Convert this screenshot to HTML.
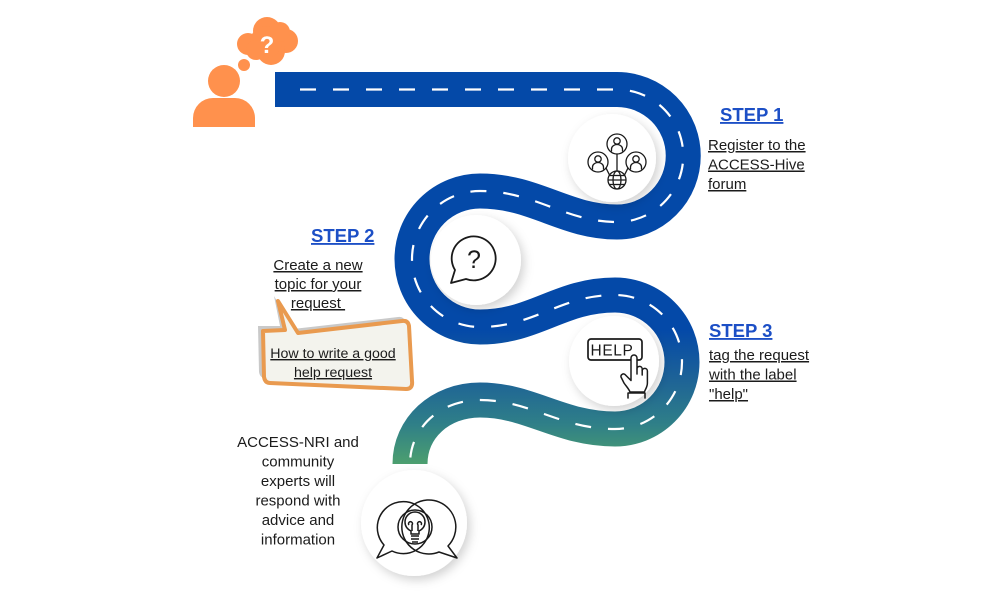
<!DOCTYPE html>
<html>
<head>
<meta charset="utf-8">
<style>
  html,body{margin:0;padding:0;background:#fff;}
  svg{display:block;}
  .t{font-family:"Liberation Sans",sans-serif;}
  .title{font-family:"Liberation Sans",sans-serif;font-weight:bold;font-size:18.5px;fill:#1c4fc6;text-decoration:underline;}
  .body{font-family:"Liberation Sans",sans-serif;font-size:15px;fill:#1b1b1b;text-decoration:underline;}
  .plain{font-family:"Liberation Sans",sans-serif;font-size:15px;fill:#1b1b1b;}
</style>
</head>
<body>
<svg width="1000" height="600" viewBox="0 0 1000 600" xmlns="http://www.w3.org/2000/svg">
  <defs>
    <linearGradient id="rg" gradientUnits="userSpaceOnUse" x1="0" y1="330" x2="0" y2="468">
      <stop offset="0" stop-color="#0449a8"/>
      <stop offset="0.35" stop-color="#1d6297"/>
      <stop offset="0.68" stop-color="#2f7f88"/>
      <stop offset="1" stop-color="#4fa26c"/>
    </linearGradient>
    <filter id="sh" x="-40%" y="-40%" width="180%" height="180%">
      <feDropShadow dx="3" dy="4" stdDeviation="5" flood-color="#000" flood-opacity="0.18"/>
    </filter>
  </defs>

  <!-- Road -->
  <path d="M275,89.5 L617,89.5 A66,66 0 0 1 617,222 C565,222 535,191 480,191 A68,68 0 0 0 480,327 C535,327 560,295 615,295 A67,67 0 0 1 615,429 C560,429 530,400 480,400 C440,400 410,428 410,464"
        stroke="url(#rg)" stroke-width="35" fill="none"/>
  <path d="M300,89.5 L617,89.5 A66,66 0 0 1 617,222 C565,222 535,191 480,191 A68,68 0 0 0 480,327 C535,327 560,295 615,295 A67,67 0 0 1 615,429 C560,429 530,400 480,400 C440,400 410,428 410,464"
        stroke="#fff" stroke-width="2.2" fill="none" stroke-dasharray="16 17"/>

  <!-- White circles -->
  <circle cx="612" cy="158" r="44" fill="#fff" filter="url(#sh)"/>
  <circle cx="476" cy="260" r="45" fill="#fff" filter="url(#sh)"/>
  <circle cx="614" cy="361" r="45" fill="#fff" filter="url(#sh)"/>
  <circle cx="414" cy="523" r="53" fill="#fff" filter="url(#sh)"/>

  <!-- Person with thought cloud -->
  <g fill="#ff914d">
    <circle cx="224" cy="81" r="16"/>
    <path d="M193,127 V118 a20,20 0 0 1 20,-20 h22 a20,20 0 0 1 20,20 V127 Z"/>
    <circle cx="244" cy="65" r="6"/>
    <circle cx="248" cy="44" r="11"/>
    <circle cx="267" cy="31" r="14"/>
    <circle cx="286" cy="41" r="12"/>
    <circle cx="271" cy="51" r="14"/>
    <circle cx="266" cy="42" r="16"/>
    <circle cx="256" cy="50" r="10"/>
    <circle cx="280" cy="32" r="10"/>
  </g>
  <text x="267" y="53" class="t" font-size="24" font-weight="bold" fill="#fff" text-anchor="middle">?</text>

  <!-- Network icon (step 1) -->
  <g fill="none" stroke="#1a1a1a" stroke-width="1.3">
    <circle cx="617" cy="144" r="10"/>
    <circle cx="598" cy="162" r="10"/>
    <circle cx="636" cy="162" r="10"/>
    <circle cx="617" cy="180" r="9"/>
    <line x1="617" y1="154" x2="617" y2="171"/>
    <line x1="606" y1="168" x2="609.5" y2="175"/>
    <line x1="628" y1="168" x2="624.5" y2="175"/>
    <circle cx="617" cy="141" r="3.2"/>
    <path d="M611.5,151.5 v-2.5 a5.5,4.5 0 0 1 11,0 v2.5"/>
    <circle cx="598" cy="159" r="3.2"/>
    <path d="M592.5,169.5 v-2.5 a5.5,4.5 0 0 1 11,0 v2.5"/>
    <circle cx="636" cy="159" r="3.2"/>
    <path d="M630.5,169.5 v-2.5 a5.5,4.5 0 0 1 11,0 v2.5"/>
    <ellipse cx="617" cy="180" rx="4" ry="9"/>
    <line x1="608" y1="180" x2="626" y2="180"/>
    <line x1="609.5" y1="175.5" x2="624.5" y2="175.5"/>
    <line x1="609.5" y1="184.5" x2="624.5" y2="184.5"/>
  </g>

  <!-- Question bubble (step 2) -->
  <path d="M455,270 A22,22 0 1 1 466,279 L451,283 Z" fill="none" stroke="#1a1a1a" stroke-width="1.8" stroke-linejoin="round"/>
  <text x="474" y="268" class="t" font-size="25" fill="#1a1a1a" text-anchor="middle">?</text>

  <!-- HELP icon (step 3) -->
  <rect x="588" y="339" width="54" height="21" rx="3" fill="#fff" stroke="#1a1a1a" stroke-width="1.7"/>
  <text x="612" y="355.5" class="t" font-size="15.5" fill="#1a1a1a" text-anchor="middle" letter-spacing="0.6">HELP</text>
  <g fill="#fff" stroke="#1a1a1a" stroke-width="1.5" stroke-linejoin="round" stroke-linecap="round">
    <path d="M631,374 V358 a3,3 0 0 1 6,0 V369 a2.6,2.6 0 0 1 5.2,0 V371 a2.6,2.6 0 0 1 5.2,0 V383 c0,4 -2,6 -3,9 H630 c-1,-3 -4,-6 -6,-9 l-3,-6 a2.5,2.5 0 0 1 4,-2.5 l6,6 Z"/>
    <path d="M642.2,370 v5 M637,369 v5" fill="none"/>
    <path d="M628,393 h17 M628,393 v5 M645,393 v5" fill="none"/>
  </g>

  <!-- Bulb with two bubbles -->
  <g fill="none" stroke="#1a1a1a" stroke-width="1.5" stroke-linejoin="round">
    <path d="M384,545 A26,26 0 1 1 392,551 L377,558 Z"/>
    <path d="M448,546 A27,27 0 1 0 439,552 L457,558 Z"/>
    <circle cx="415" cy="527" r="17"/>
    <path d="M411,534 v-3 c-4,-2 -6,-5 -6,-9 a10,10 0 0 1 20,0 c0,4 -2,7 -6,9 v3 Z"/>
    <path d="M411,536 h8 M411,539 h8 M412,542 h6"/>
    <path d="M412,531 v-6 a2,2 0 1 0 -3,0 M418,531 v-6 a2,2 0 1 1 3,0"/>
  </g>

  <!-- Speech bubble -->
  <path d="M258,326 L280,326 L274,296 L293,329 L398,317 Q404,316 405,322 L408,376 Q409,383 402,383 L265,378 Q260,378 259,372 Z" fill="#c9c9c9"/>
  <path d="M263,331 L285,330 L278,301 L298,333 L402,321 Q408,320 409,326 L412,381 Q413,389 406,389 L270,383 Q265,383 264,377 Z"
        fill="#f3f3ed" stroke="#e99a4f" stroke-width="4" stroke-linejoin="round"/>
  <text x="333" y="358" class="t" font-size="14.2" fill="#1b1b1b" text-anchor="middle" style="text-decoration:underline">How to write a good</text>
  <text x="333" y="377" class="t" font-size="14.2" fill="#1b1b1b" text-anchor="middle" style="text-decoration:underline">help request</text>

  <!-- Step 1 text -->
  <text x="720" y="121" class="title">STEP 1</text>
  <text x="708" y="150" class="body">Register to the</text>
  <text x="708" y="169.5" class="body">ACCESS-Hive</text>
  <text x="708" y="189" class="body">forum</text>

  <!-- Step 2 text -->
  <text x="311" y="242" class="title">STEP 2</text>
  <text x="318" y="270" class="body" text-anchor="middle">Create a new</text>
  <text x="318" y="289" class="body" text-anchor="middle">topic for your</text>
  <text x="318" y="308" class="body" text-anchor="middle">request&#160;</text>

  <!-- Step 3 text -->
  <text x="709" y="337" class="title">STEP 3</text>
  <text x="709" y="360" class="body">tag the request</text>
  <text x="709" y="379.5" class="body">with the label</text>
  <text x="709" y="399" class="body">"help"</text>

  <!-- Final text -->
  <text x="298" y="447" class="plain" text-anchor="middle">ACCESS-NRI and</text>
  <text x="298" y="466.5" class="plain" text-anchor="middle">community</text>
  <text x="298" y="486" class="plain" text-anchor="middle">experts will</text>
  <text x="298" y="505.5" class="plain" text-anchor="middle">respond with</text>
  <text x="298" y="525" class="plain" text-anchor="middle">advice and</text>
  <text x="298" y="544.5" class="plain" text-anchor="middle">information</text>
</svg>
</body>
</html>
